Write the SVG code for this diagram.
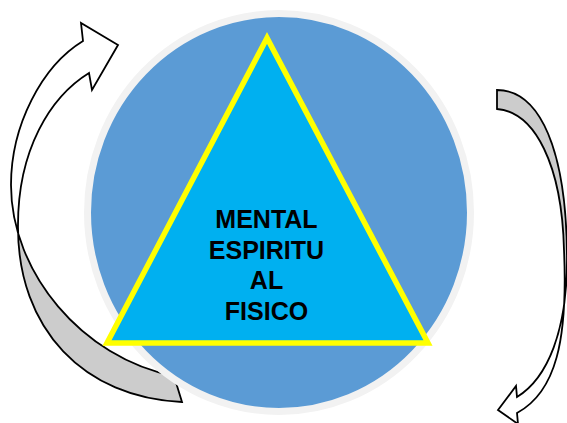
<svg xmlns="http://www.w3.org/2000/svg" width="567" height="423" viewBox="0 0 567 423">
<style>
.arrow{stroke:#000;stroke-width:1.8;stroke-linejoin:miter}
.lbl{font-family:"Liberation Sans",Arial,sans-serif;font-weight:bold;font-size:25px;fill:#000;text-anchor:middle}
</style>
<defs>
<clipPath id="leftTop"><rect x="0" y="0" width="200" height="226"/></clipPath>
<clipPath id="rightTop"><rect x="480" y="0" width="87" height="290"/></clipPath>
</defs>
<rect width="567" height="423" fill="#fff"/>
<g id="connectors">
  <g id="left-arrow">
    <path d="M118,45 L81,23 L83,41 C42,66 11,125 11,185 C11,272 82,358 174,376 L182,402 C85,398 17,330 18,225 C18,150 50,97 89,73 L92,90 Z" fill="#cccccc" stroke="none"/>
    <path d="M118,45 L81,23 L83,41 C42,66 11,125 11,185 C11,272 82,358 174,376 L182,402 C85,398 17,330 18,225 C18,150 50,97 89,73 L92,90 Z" fill="#ffffff" stroke="none" clip-path="url(#leftTop)"/>
    <path class="arrow" d="M118,45 L81,23 L83,41 C42,66 11,125 11,185 C11,272 82,358 174,376 L182,402 C85,398 17,330 18,225 C18,150 50,97 89,73 L92,90 Z" fill="none"/>
  </g>
  <g id="right-arrow">
    <path d="M497,90 C540,90 567,150 567,260 C567,330 548,378 517,397 L516,386 L498,410 L518,424 L517,413 C556,392 568,340 564,250 C562,165 535,112 497,109 Z" fill="#ffffff" stroke="none"/>
    <path d="M497,90 C540,90 567,150 567,260 C567,330 548,378 517,397 L516,386 L498,410 L518,424 L517,413 C556,392 568,340 564,250 C562,165 535,112 497,109 Z" fill="#cccccc" stroke="none" clip-path="url(#rightTop)"/>
    <path class="arrow" d="M497,90 C540,90 567,150 567,260 C567,330 548,378 517,397 L516,386 L498,410 L518,424 L517,413 C556,392 568,340 564,250 C562,165 535,112 497,109 Z" fill="none"/>
  </g>
</g>
<g id="circle">
  <ellipse cx="279" cy="212.5" rx="191.5" ry="199" fill="#5b9bd5" stroke="#f2f2f2" stroke-width="7"/>
</g>
<g id="triangle">
  <polygon points="267,38 107,343 428,343" fill="#00b0f0" stroke="#ffff00" stroke-width="5.5"/>
  <text class="lbl" x="266.5" y="228">MENTAL</text>
  <text class="lbl" x="266.5" y="258.7">ESPIRITU</text>
  <text class="lbl" x="266.5" y="289.3">AL</text>
  <text class="lbl" x="266.5" y="320">FISICO</text>
</g>
</svg>
